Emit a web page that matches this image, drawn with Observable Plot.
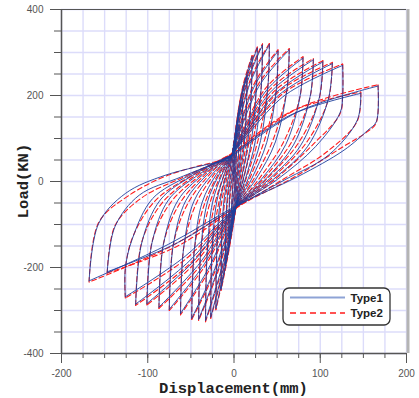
<!DOCTYPE html>
<html><head><meta charset="utf-8">
<script src="https://cdn.jsdelivr.net/npm/d3@7"></script>
<script src="https://cdn.jsdelivr.net/npm/@observablehq/plot@0.6"></script>
<style>body{margin:0;background:#fff}</style>
</head><body><div id="chart"></div>
<script>
const xTickLabels = [-200, -100, 0, 100, 200];
const yTickLabels = [-400, -200, 0, 200, 400];
const xMinor = d3.range(-200, 201, 25);
const yMinor = d3.range(-400, 401, 50);
const seriesNames = ["Type1", "Type2"];
const xTitle = "Displacement(mm)";
const yTitle = "Load(KN)";

// Type1: loop vertices per cycle [displacement, load]
const type1Cycles = [
 [[0,0],[1,40],[3,70],[2.5,45],[1.5,15],[0.5,-20],[-1,-40],[-3,-70],[-2.5,-45],[-1.5,-15],[-0.5,20]],
 [[2.5,97],[6,130],[5.8,91],[4.5,39],[2.4,3],[1,-35],[-2.5,-87],[-6,-130],[-5.6,-65],[-4.5,-20],[-2.5,6],[-1,35]],
 [[4.5,141],[10,190],[9.6,133],[7.5,57],[4,4],[1.5,-50],[-4.5,-130],[-10,-195],[-9.4,-98],[-7.5,-29],[-4.2,10],[-1.5,50]],
 [[6.8,181],[15,245],[14.4,172],[11.3,74],[6,5],[2,-60],[-6.8,-165],[-15,-250],[-14.1,-125],[-11.3,-38],[-6.3,12],[-2,62]],
 [[9.5,210],[21,290],[20,203],[15.8,87],[8.4,6],[2,-60],[-9.5,-189],[-21,-295],[-19.7,-148],[-15.8,-44],[-8.8,15],[-2,62]],
 [[12.2,223],[27,310],[26,217],[20,93],[10.8,6],[2,-60],[-12.2,-200],[-27,-315],[-25.4,-158],[-20,-47],[-11.3,16],[-2,62]],
 [[14.9,228],[33,317],[31.7,222],[24.8,95],[13.2,6],[2,-60],[-14.9,-205],[-33,-323],[-31,-162],[-24.8,-48],[-13.9,16],[-2,62]],
 [[18.5,228],[41,318],[39.4,223],[30.8,95],[16.4,6],[2,-60],[-18.5,-203],[-41,-320],[-38.5,-160],[-30.8,-48],[-17.2,16],[-2,62]],
 [[23,219],[51,303],[49,212],[38,91],[20.4,6],[2,-60],[-22,-202],[-49,-318],[-46,-159],[-36.8,-48],[-20.6,16],[-2,62]],
 [[28.8,221],[64,306],[61.4,214],[48,92],[25.6,6],[2,-60],[-27.9,-196],[-62,-307],[-58.3,-154],[-46.5,-46],[-26,15],[-2,62]],
 [[36,208],[80,287],[76.8,201],[60,86],[32,6],[2,-60],[-33.8,-190],[-75,-297],[-70.5,-149],[-56,-45],[-31.5,15],[-2,62]],
 [[41.4,206],[92,283],[88.3,198],[69,85],[36.8,6],[2,-60],[-39,-188],[-87,-292],[-81.8,-146],[-65,-44],[-36.5,15],[-2,62]],
 [[46.4,202],[103,278],[98.9,195],[77,83],[41,6],[2,-60],[-45.5,-183],[-101,-284],[-95,-142],[-76,-43],[-42.4,14],[-2,62]],
 [[51.3,200],[114,274],[109.4,192],[85.5,82],[45.6,5],[2,-60],[-51.3,-184],[-114,-285],[-107,-143],[-85.5,-43],[-48,14],[-2,62]],
 [[56.7,197],[126,270],[126,200],[123,160],[94.5,81],[50.4,5],[2,-60],[-56.7,-174],[-126,-268],[-126,-202],[-118,-134],[-94.5,-40],[-53,13],[-2,62]],
 [[66,155],[147,205],[143,143],[110,62],[59,4],[3,-58],[-66,-143],[-147,-210],[-138,-105],[-110,-32],[-62,10],[-4,56]],
 [[74,162],[167,222],[165,139],[155,119],[127.6,73],[73.7,11],[4,-55],[-76,-146],[-168,-231],[-157,-98],[-126,-28],[-79,15],[-6,50]]
];

// Type2: loop vertices per cycle [displacement, load]
const type2Cycles = [
 [[0,0],[1,42],[3,72],[2.4,44],[1.4,13],[0.4,-22],[-1,-42],[-3,-72],[-2.4,-44],[-1.4,-13],[-0.4,22]],
 [[2.6,103],[6,133],[5.7,88],[4,44],[2,3],[1,-38],[-2.6,-93],[-6,-133],[-5.5,-62],[-4,-25],[-2,6],[-1,38]],
 [[4.6,149],[10,193],[9.5,130],[6.8,62],[3.4,4],[1.5,-53],[-4.6,-138],[-10,-198],[-9.3,-95],[-6.8,-34],[-3.6,10],[-1.5,53]],
 [[7,189],[15,248],[14.3,169],[10.5,80],[5,5],[2,-63],[-7,-173],[-15,-253],[-14,-122],[-10.5,-44],[-5.5,12],[-2,65]],
 [[9.8,218],[21,293],[19.8,200],[14.5,93],[7,6],[2,-63],[-9.8,-197],[-21,-298],[-19.5,-145],[-14.5,-50],[-7.5,15],[-2,65]],
 [[12.5,231],[27,313],[25.8,214],[18,99],[9,6],[2,-63],[-12.5,-208],[-27,-318],[-25.2,-155],[-18,-53],[-9.5,16],[-2,65]],
 [[15.2,236],[33,320],[31.5,219],[22.5,101],[11,6],[2,-63],[-15.2,-213],[-33,-326],[-30.8,-159],[-22.5,-54],[-11.5,16],[-2,65]],
 [[18.8,236],[41,321],[39.2,220],[28.5,101],[14,6],[2,-63],[-18.8,-211],[-41,-323],[-38.3,-157],[-28.5,-54],[-15,16],[-2,65]],
 [[23.3,227],[51,306],[48.8,209],[35.5,97],[18,6],[2,-63],[-22.3,-210],[-49,-321],[-45.8,-156],[-34.5,-54],[-18.5,16],[-2,65]],
 [[29.1,229],[64,309],[61.2,211],[45.5,98],[23,6],[2,-63],[-28.2,-204],[-62,-310],[-58.1,-151],[-44,-52],[-23.5,15],[-2,65]],
 [[36.3,216],[80,290],[76.6,198],[57.5,92],[29,6],[2,-63],[-34.1,-198],[-75,-300],[-70.3,-146],[-53.5,-51],[-29,15],[-2,65]],
 [[41.7,214],[92,286],[88.1,195],[66.5,91],[34,6],[2,-63],[-39.3,-196],[-87,-295],[-81.6,-143],[-62.5,-50],[-34,15],[-2,65]],
 [[46.7,210],[103,281],[98.7,192],[74.5,89],[38,6],[2,-63],[-45.8,-191],[-101,-287],[-94.8,-139],[-73.5,-49],[-39.5,14],[-2,65]],
 [[51.6,208],[114,277],[109.2,189],[83,88],[42.5,5],[2,-63],[-51.6,-192],[-114,-288],[-106.8,-140],[-83,-49],[-45,14],[-2,65]],
 [[57,205],[126,273],[126,203],[122.8,157],[92,87],[47.5,5],[2,-63],[-57,-182],[-126,-271],[-126,-205],[-117.8,-131],[-92,-46],[-50,13],[-2,65]],
 [[66.3,163],[147,208],[142.8,140],[107,68],[56,4],[3,-61],[-66.3,-151],[-147,-213],[-137.8,-102],[-107,-38],[-59,10],[-4,59]],
 [[74.3,170],[167,225],[164.8,136],[154.8,116],[125,79],[70.5,11],[4,-58],[-76.3,-154],[-168,-234],[-156.8,-95],[-123,-34],[-76,15],[-6,53]]
];

// split the continuous path into branches at each cycle's peaks (so peaks stay sharp)
function toBranches(cycles) {
  const out = [];
  let k = 0;
  let prev = null;
  cycles.forEach(cyc => {
    const xs = cyc.map(p => p[0]);
    const iMax = xs.indexOf(d3.max(xs));
    const iMin = xs.indexOf(d3.min(xs));
    const cuts = [0, iMax, iMin, cyc.length - 1];
    for (let s = 0; s < 3; s++) {
      const seg = cyc.slice(cuts[s], cuts[s + 1] + 1);
      if (s === 0 && prev) seg.unshift(prev);
      seg.forEach(([x, y]) => out.push({x, y, z: k}));
      k++;
    }
    prev = cyc[cyc.length - 1];
  });
  return out;
}

const blue = "#1e3f9c", red = "#ff1a1a";
const fmt = d => String(d);

const chart = Plot.plot({
  width: 419, height: 398,
  marginLeft: 61, marginRight: 13, marginTop: 9, marginBottom: 45,
  x: {domain: [-200, 200]},
  y: {domain: [-400, 400]},
  style: {fontFamily: "'Liberation Sans', Arial, sans-serif", background: "#fff", overflow: "visible"},
  marks: [
    Plot.gridX(xMinor, {stroke: "#dcdcfa", strokeOpacity: 1, strokeWidth: 1.4}),
    Plot.gridY(yMinor, {stroke: "#dcdcfa", strokeOpacity: 1, strokeWidth: 1.4}),
    Plot.line(toBranches(type2Cycles), {x: "x", y: "y", z: "z", stroke: red, strokeWidth: 1.1, strokeDasharray: "5,3", curve: "catmull-rom"}),
    Plot.line(toBranches(type1Cycles), {x: "x", y: "y", z: "z", stroke: blue, strokeWidth: 0.9, curve: "catmull-rom"}),
    Plot.ruleY([400], {stroke: "#555", strokeWidth: 1.2}),
    Plot.ruleX([200], {stroke: "#b4b4b4", strokeWidth: 3, dx: 1.5}),
    Plot.ruleX([-200], {stroke: "#555", strokeWidth: 1.5}),
    Plot.ruleY([-400], {stroke: "#555", strokeWidth: 1.5}),
    Plot.axisX(xMinor, {anchor: "bottom", tickSize: 5, tickFormat: () => "", color: "#555", label: null}),
    Plot.axisX(xTickLabels, {anchor: "bottom", tickSize: 10, tickPadding: 6, fontSize: 10, color: "#555", tickFormat: fmt, label: null}),
    Plot.axisY(yMinor, {anchor: "left", tickSize: 7, tickFormat: () => "", color: "#555", label: null}),
    Plot.axisY(yTickLabels, {anchor: "left", tickSize: 11, tickPadding: 7, fontSize: 10, color: "#555", tickFormat: fmt, label: null})
  ]
});

const svg = d3.select(chart);
const mono = "'Liberation Mono', 'Courier New', monospace";
svg.append("text").attr("x", 233.5).attr("y", 393).attr("text-anchor", "middle")
  .attr("font-family", mono).attr("font-weight", "bold").attr("font-size", 15.5).attr("fill", "#222").text(xTitle);
svg.append("text").attr("transform", "translate(28,181) rotate(-90)").attr("text-anchor", "middle")
  .attr("font-family", mono).attr("font-weight", "bold").attr("font-size", 15.5).attr("fill", "#222").text(yTitle);

const lg = svg.append("g");
lg.append("rect").attr("x", 283).attr("y", 288).attr("width", 107).attr("height", 37).attr("rx", 6)
  .attr("fill", "#fff").attr("stroke", "#333").attr("stroke-width", 1.3);
const legendStyles = [{stroke: "#8ea3d6", dash: null, w: 2}, {stroke: red, dash: "6,4", w: 1.4}];
seriesNames.forEach((name, i) => {
  const yy = 297.5 + i * 15.5;
  lg.append("line").attr("x1", 290).attr("x2", 345).attr("y1", yy).attr("y2", yy)
    .attr("stroke", legendStyles[i].stroke).attr("stroke-width", legendStyles[i].w)
    .attr("stroke-dasharray", legendStyles[i].dash);
  lg.append("text").attr("x", 350.5).attr("y", yy + 4).attr("text-anchor", "start")
    .attr("font-family", "'Liberation Sans', Arial, sans-serif")
    .attr("font-weight", "bold").attr("font-size", 11.5).attr("fill", "#222").text(name);
});

document.getElementById("chart").appendChild(chart);
</script>
</body></html>
